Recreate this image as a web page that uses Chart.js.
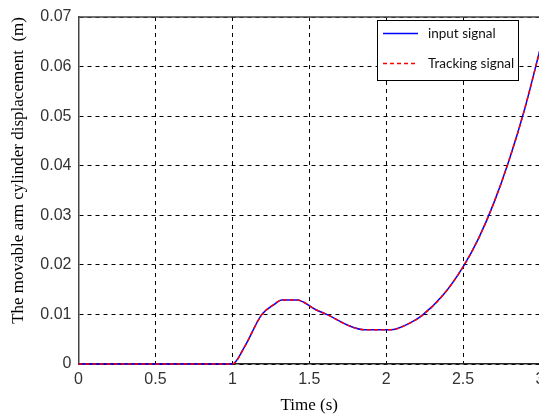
<!DOCTYPE html>
<html>
<head>
<meta charset="utf-8">
<script src="https://cdn.jsdelivr.net/npm/chart.js@4/dist/chart.umd.min.js"></script>
<style>
  html, body { margin: 0; padding: 0; background: #fff; overflow: hidden; }
  #wrap { width: 539px; height: 417px; overflow: hidden; }
</style>
</head>
<body>
<div id="wrap"><canvas id="chart" width="560" height="417"></canvas></div>
<script>
// values
const timeValues = [0, 1.0, 1.08, 1.19, 1.28, 1.32, 1.42, 1.54, 1.62, 1.76, 1.86, 2.03, 2.15, 2.23, 2.37, 2.5, 2.6, 2.7, 2.8, 2.9, 3.0];
const inputSignal = [0, 0, 0.0035, 0.0099, 0.0122, 0.0129, 0.0129, 0.0110, 0.0099, 0.0077, 0.0069, 0.0069, 0.0082, 0.0097, 0.0139, 0.0196, 0.0253, 0.0325, 0.0412, 0.0514, 0.0634];
const trackingSignal = [0, 0, 0.0035, 0.0099, 0.0122, 0.0129, 0.0129, 0.0110, 0.0099, 0.0077, 0.0069, 0.0069, 0.0082, 0.0097, 0.0139, 0.0196, 0.0253, 0.0325, 0.0412, 0.0514, 0.0634];
const seriesLabels = ['input signal', 'Tracking signal'];
const seriesColors = ['#0000ff', '#ff0000'];
const xTickLabels = ['0', '0.5', '1', '1.5', '2', '2.5', '3'];
const yTickLabels = ['0', '0.01', '0.02', '0.03', '0.04', '0.05', '0.06', '0.07'];

const toPoints = (vals) => vals.map((v, i) => ({ x: timeValues[i], y: v }));

const tickFont = { family: '"Liberation Sans", Arial, sans-serif', size: 16 };
const serif = '"Liberation Serif", "Times New Roman", serif';

// top frame line + boxed legend
const frameAndLegend = {
    id: 'frameAndLegend',
    afterDraw(chart) {
        const { ctx, chartArea } = chart;
        ctx.save();
        ctx.strokeStyle = '#444';
        ctx.lineWidth = 1.5;
        ctx.beginPath();
        ctx.moveTo(chartArea.left, chartArea.top);
        ctx.lineTo(chartArea.right, chartArea.top);
        ctx.stroke();

        const bx = chartArea.right - 163, by = chartArea.top + 3, bw = 141, bh = 60;
        ctx.fillStyle = '#fff';
        ctx.fillRect(bx, by, bw, bh);
        ctx.strokeStyle = '#000';
        ctx.lineWidth = 1;
        ctx.strokeRect(bx + 0.5, by + 0.5, bw, bh);

        ctx.font = '13.5px Lato, "Liberation Sans", sans-serif';
        ctx.textBaseline = 'middle';
        seriesLabels.forEach((label, i) => {
            const ly = by + 13.5 + i * 30;
            ctx.beginPath();
            ctx.setLineDash(i === 1 ? [4, 3] : []);
            ctx.strokeStyle = seriesColors[i];
            ctx.lineWidth = 1.5;
            ctx.moveTo(bx + 6, ly);
            ctx.lineTo(bx + 41, ly);
            ctx.stroke();
            ctx.setLineDash([]);
            ctx.fillStyle = '#111';
            ctx.fillText(label, bx + 51, ly);
        });
        ctx.restore();
    }
};

new Chart(document.getElementById('chart'), {
    type: 'line',
    data: {
        datasets: [
            {
                label: seriesLabels[0],
                data: toPoints(inputSignal),
                borderColor: seriesColors[0],
                borderWidth: 1.5,
                pointRadius: 0,
                cubicInterpolationMode: 'monotone',
                clip: 4,
                order: 2
            },
            {
                label: seriesLabels[1],
                data: toPoints(trackingSignal),
                borderColor: seriesColors[1],
                borderWidth: 1.5,
                borderDash: [4, 3],
                pointRadius: 0,
                cubicInterpolationMode: 'monotone',
                clip: 4,
                order: 1
            }
        ]
    },
    options: {
        responsive: false,
        animation: false,
        events: [],
        layout: { padding: { top: 17, right: 20, left: 0, bottom: 0 } },
        plugins: { legend: { display: false }, tooltip: { enabled: false } },
        scales: {
            x: {
                type: 'linear',
                min: 0,
                max: 3,
                afterFit: (s) => { s.height = 53; },
                afterBuildTicks: (s) => { s.ticks = xTickLabels.map(t => ({ value: parseFloat(t) })); },
                ticks: {
                    callback: (v, i) => xTickLabels[i],
                    font: tickFont,
                    color: '#333',
                    padding: 6,
                    maxRotation: 0
                },
                grid: { color: '#000', lineWidth: 1, drawTicks: false },
                border: { color: '#222', width: 1.5, dash: [4, 4] },
                title: { display: true, text: 'Time (s)', font: { family: serif, size: 17 }, color: '#000', padding: { top: 0, bottom: 1 } }
            },
            y: {
                min: 0,
                max: 0.07,
                afterFit: (s) => { s.width = 78.5; },
                afterBuildTicks: (s) => { s.ticks = yTickLabels.map(t => ({ value: parseFloat(t) })); },
                ticks: {
                    callback: (v, i) => yTickLabels[i],
                    font: tickFont,
                    color: '#333',
                    padding: 7
                },
                grid: { color: '#000', lineWidth: 1, drawTicks: false },
                border: { color: '#444', width: 1.5, dash: [4, 4] },
                title: { display: true, align: 'end', text: 'The movable arm cylinder displacement  (m)', font: { family: serif, size: 17 }, color: '#000', padding: { top: 8, bottom: 0 } }
            }
        }
    },
    plugins: [frameAndLegend]
});
</script>
</body>
</html>
